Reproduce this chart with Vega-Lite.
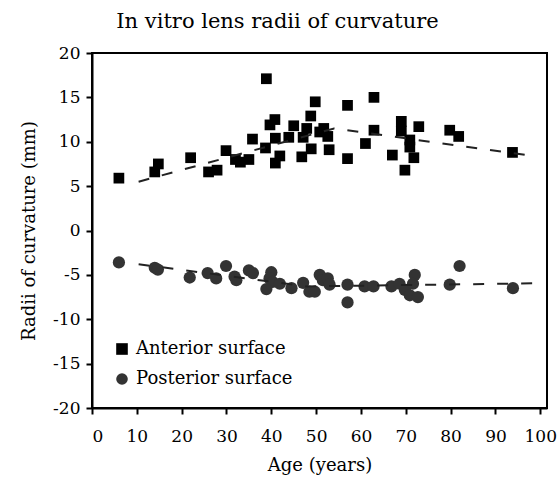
{
  "$schema": "https://vega.github.io/schema/vega-lite/v6.json",
  "autosize": {"type": "none"},
  "padding": {"left": 92, "top": 53, "right": 11, "bottom": 79},
  "width": 455,
  "height": 355,
  "background": "white",
  "title": {"text": "In vitro lens radii of curvature", "font": "DejaVu Serif", "fontSize": 21, "fontWeight": "normal", "color": "black", "anchor": "middle", "dx": -42, "offset": 12},
  "config": {
    "view": {"stroke": "black", "strokeWidth": 2},
    "axis": {"grid": false, "domainColor": "black", "domainWidth": 2, "tickColor": "black", "tickWidth": 2, "tickSize": 6, "labelFont": "DejaVu Serif", "labelFontSize": 17, "labelColor": "black", "titleFont": "DejaVu Serif", "titleFontSize": 18, "titleFontWeight": "normal", "titleColor": "black", "labelExpr": "'' + datum.value"},
    "legend": {"labelFont": "DejaVu Serif", "labelFontSize": 18, "labelColor": "black"}
  },
  "datasets": {
    "pts": [
      {"series": "Anterior surface", "age": 6.0, "r": 5.9},
      {"series": "Anterior surface", "age": 14.0, "r": 6.6},
      {"series": "Anterior surface", "age": 14.8, "r": 7.5},
      {"series": "Anterior surface", "age": 22.0, "r": 8.2},
      {"series": "Anterior surface", "age": 26.0, "r": 6.6},
      {"series": "Anterior surface", "age": 27.9, "r": 6.8},
      {"series": "Anterior surface", "age": 29.9, "r": 9.0},
      {"series": "Anterior surface", "age": 32.0, "r": 8.0},
      {"series": "Anterior surface", "age": 33.1, "r": 7.7},
      {"series": "Anterior surface", "age": 35.0, "r": 8.0},
      {"series": "Anterior surface", "age": 35.8, "r": 10.3},
      {"series": "Anterior surface", "age": 38.9, "r": 17.1},
      {"series": "Anterior surface", "age": 38.7, "r": 9.3},
      {"series": "Anterior surface", "age": 39.7, "r": 11.9},
      {"series": "Anterior surface", "age": 40.8, "r": 12.5},
      {"series": "Anterior surface", "age": 40.9, "r": 10.4},
      {"series": "Anterior surface", "age": 40.9, "r": 7.6},
      {"series": "Anterior surface", "age": 41.9, "r": 8.4},
      {"series": "Anterior surface", "age": 43.9, "r": 10.5},
      {"series": "Anterior surface", "age": 45.0, "r": 11.8},
      {"series": "Anterior surface", "age": 46.8, "r": 8.3},
      {"series": "Anterior surface", "age": 47.1, "r": 10.5},
      {"series": "Anterior surface", "age": 47.9, "r": 11.5},
      {"series": "Anterior surface", "age": 48.8, "r": 12.9},
      {"series": "Anterior surface", "age": 48.9, "r": 9.2},
      {"series": "Anterior surface", "age": 49.8, "r": 14.5},
      {"series": "Anterior surface", "age": 50.8, "r": 11.1},
      {"series": "Anterior surface", "age": 51.7, "r": 11.5},
      {"series": "Anterior surface", "age": 52.6, "r": 10.6},
      {"series": "Anterior surface", "age": 52.9, "r": 9.1},
      {"series": "Anterior surface", "age": 57.0, "r": 14.1},
      {"series": "Anterior surface", "age": 57.0, "r": 8.1},
      {"series": "Anterior surface", "age": 61.0, "r": 9.8},
      {"series": "Anterior surface", "age": 62.9, "r": 15.0},
      {"series": "Anterior surface", "age": 62.9, "r": 11.3},
      {"series": "Anterior surface", "age": 67.0, "r": 8.5},
      {"series": "Anterior surface", "age": 69.0, "r": 12.3},
      {"series": "Anterior surface", "age": 69.0, "r": 11.2},
      {"series": "Anterior surface", "age": 70.9, "r": 10.2},
      {"series": "Anterior surface", "age": 70.9, "r": 9.4},
      {"series": "Anterior surface", "age": 71.8, "r": 8.2},
      {"series": "Anterior surface", "age": 69.8, "r": 6.8},
      {"series": "Anterior surface", "age": 72.9, "r": 11.7},
      {"series": "Anterior surface", "age": 79.8, "r": 11.3},
      {"series": "Anterior surface", "age": 81.8, "r": 10.6},
      {"series": "Anterior surface", "age": 93.8, "r": 8.8},
      {"series": "Posterior surface", "age": 6.0, "r": -3.6},
      {"series": "Posterior surface", "age": 14.0, "r": -4.2},
      {"series": "Posterior surface", "age": 14.7, "r": -4.4},
      {"series": "Posterior surface", "age": 21.8, "r": -5.3},
      {"series": "Posterior surface", "age": 25.8, "r": -4.8},
      {"series": "Posterior surface", "age": 27.7, "r": -5.4},
      {"series": "Posterior surface", "age": 29.9, "r": -4.0},
      {"series": "Posterior surface", "age": 31.8, "r": -5.2},
      {"series": "Posterior surface", "age": 32.2, "r": -5.6},
      {"series": "Posterior surface", "age": 35.0, "r": -4.5},
      {"series": "Posterior surface", "age": 35.9, "r": -4.8},
      {"series": "Posterior surface", "age": 40.0, "r": -4.7},
      {"series": "Posterior surface", "age": 39.6, "r": -5.4},
      {"series": "Posterior surface", "age": 40.3, "r": -5.8},
      {"series": "Posterior surface", "age": 38.9, "r": -6.6},
      {"series": "Posterior surface", "age": 41.9, "r": -6.0},
      {"series": "Posterior surface", "age": 44.5, "r": -6.5},
      {"series": "Posterior surface", "age": 47.1, "r": -5.9},
      {"series": "Posterior surface", "age": 48.5, "r": -6.9},
      {"series": "Posterior surface", "age": 49.7, "r": -6.9},
      {"series": "Posterior surface", "age": 50.8, "r": -5.0},
      {"series": "Posterior surface", "age": 51.5, "r": -5.6},
      {"series": "Posterior surface", "age": 52.6, "r": -5.4},
      {"series": "Posterior surface", "age": 53.0, "r": -6.1},
      {"series": "Posterior surface", "age": 57.0, "r": -6.1},
      {"series": "Posterior surface", "age": 57.0, "r": -8.1},
      {"series": "Posterior surface", "age": 60.8, "r": -6.3},
      {"series": "Posterior surface", "age": 62.8, "r": -6.3},
      {"series": "Posterior surface", "age": 66.8, "r": -6.3},
      {"series": "Posterior surface", "age": 68.6, "r": -6.0},
      {"series": "Posterior surface", "age": 69.8, "r": -6.7},
      {"series": "Posterior surface", "age": 70.9, "r": -7.3},
      {"series": "Posterior surface", "age": 72.0, "r": -5.0},
      {"series": "Posterior surface", "age": 72.7, "r": -7.5},
      {"series": "Posterior surface", "age": 71.6, "r": -6.0},
      {"series": "Posterior surface", "age": 79.8, "r": -6.1},
      {"series": "Posterior surface", "age": 82.0, "r": -4.0},
      {"series": "Posterior surface", "age": 93.9, "r": -6.5}
    ],
    "trend": [
      {"series": "Anterior surface", "age": 10.4, "r": 5.5},
      {"series": "Anterior surface", "age": 54.0, "r": 11.5},
      {"series": "Anterior surface", "age": 98.4, "r": 8.4},
      {"series": "Posterior surface", "age": 10.4, "r": -3.8},
      {"series": "Posterior surface", "age": 48.0, "r": -6.3},
      {"series": "Posterior surface", "age": 98.4, "r": -5.95}
    ]
  },
  "layer": [
    {
      "data": {"name": "pts"},
      "mark": {"type": "point", "filled": true, "opacity": 1, "strokeWidth": 0},
      "encoding": {
        "x": {"field": "age", "type": "quantitative", "scale": {"domain": [0, 101.5], "nice": false, "zero": false}, "axis": {"values": [0, 10, 20, 30, 40, 50, 60, 70, 80, 90, 100], "title": "Age (years)", "titlePadding": 12, "labelPadding": 14}},
        "y": {"field": "r", "type": "quantitative", "scale": {"domain": [-20, 20], "nice": false, "zero": false}, "axis": {"values": [-20, -15, -10, -5, 0, 5, 10, 15, 20], "title": "Radii of curvature (mm)", "titlePadding": 14, "labelPadding": 6}},
        "shape": {"field": "series", "type": "nominal", "scale": {"domain": ["Anterior surface", "Posterior surface"], "range": ["square", "circle"]}, "legend": {"title": null, "orient": "none", "legendX": 21, "legendY": 287, "padding": 0, "rowPadding": 12, "symbolSize": 135, "symbolStrokeWidth": 0, "labelOffset": 5}},
        "color": {"field": "series", "type": "nominal", "scale": {"domain": ["Anterior surface", "Posterior surface"], "range": ["#000000", "#333333"]}, "legend": {"title": null, "orient": "none", "legendX": 21, "legendY": 287, "padding": 0, "rowPadding": 12, "symbolSize": 135, "symbolStrokeWidth": 0, "labelOffset": 5}},
        "size": {"condition": {"test": "datum.series === 'Posterior surface'", "value": 150}, "value": 115}
      }
    },
    {
      "data": {"name": "trend"},
      "mark": {"type": "line", "strokeDash": [11, 13], "strokeWidth": 2, "color": "#222222"},
      "encoding": {
        "x": {"field": "age", "type": "quantitative"},
        "y": {"field": "r", "type": "quantitative"},
        "detail": {"field": "series", "type": "nominal"}
      }
    }
  ]
}
